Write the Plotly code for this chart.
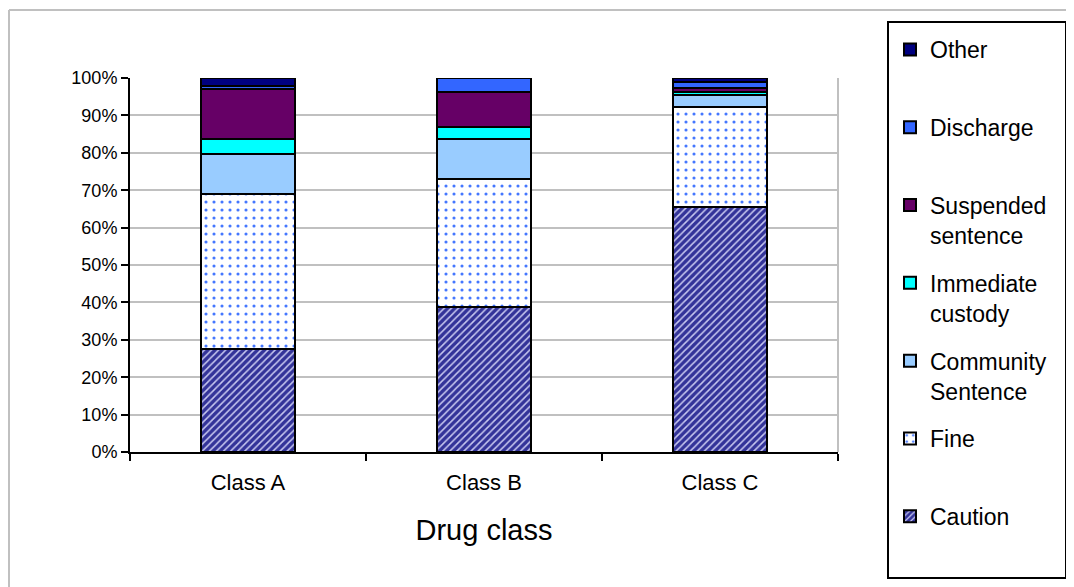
import plotly.graph_objects as go

categories = ["Class A", "Class B", "Class C"]
caution = [27.5, 38.7, 65.5]
fine = [41.5, 34.2, 26.7]
community = [10.6, 10.7, 3.2]
immediate = [4.1, 3.4, 0.8]
suspended = [13.3, 9.3, 1.0]
discharge = [0.8, 3.7, 1.8]
other = [2.2, 0.0, 1.0]

series_names = ["Caution", "Fine", "Community<br>Sentence", "Immediate<br>custody",
                "Suspended<br>sentence", "Discharge", "Other"]
series_values = [caution, fine, community, immediate, suspended, discharge, other]

FONT = "Liberation Sans, Arial, sans-serif"

styles = [
    dict(color="#333399", pattern=dict(shape="/", bgcolor="#333399", fgcolor="#c8c8f0",
                                       size=5, solidity=0.3, fillmode="replace")),
    dict(color="white", pattern=dict(shape=".", bgcolor="white", fgcolor="#4477ff",
                                     size=8, solidity=0.12, fillmode="replace")),
    dict(color="#99CCFF"),
    dict(color="#00FFFF"),
    dict(color="#660066"),
    dict(color="#3366FF"),
    dict(color="#000080"),
]

fig = go.Figure()
for i, (name, vals, st) in enumerate(zip(series_names, series_values, styles)):
    label = name if ("<br>" in name or i == 0) else name + "<br> "
    fig.add_trace(go.Bar(
        x=categories, y=vals, name=label, legendgroup=f"g{i}", legendrank=1000 - i,
        marker=dict(color=st["color"], pattern=st.get("pattern"),
                    line=dict(color="black", width=2)),
    ))

OFF = 8  # page body margin
W, H = 1074 - OFF, 587 - OFF
L, R, T, B = 130 - OFF, 838 - OFF, 78 - OFF, 452 - OFF
pw, ph = R - L, B - T

def px(x):
    return (x - OFF - L) / pw

def py(y):
    return (B - (y - OFF)) / ph

shapes = [
    dict(type="line", xref="paper", yref="paper", x0=px(9), x1=px(1080), y0=py(10), y1=py(10),
         line=dict(color="#c0c0c0", width=2)),
    dict(type="line", xref="paper", yref="paper", x0=px(9), x1=px(9), y0=py(10), y1=py(600),
         line=dict(color="#c0c0c0", width=2)),
    dict(type="line", xref="paper", yref="paper", x0=1, x1=1, y0=0, y1=1,
         line=dict(color="#c0c0c0", width=2), layer="below"),
    dict(type="rect", xref="paper", yref="paper", x0=px(888), x1=px(1066), y0=py(22), y1=py(578),
         line=dict(color="black", width=2)),
]

fig.update_layout(
    width=W, height=H,
    margin=dict(l=L, r=W - R, t=T, b=H - B),
    barmode="stack", bargap=0.6,
    plot_bgcolor="white", paper_bgcolor="white",
    font=dict(family=FONT, size=18, color="black"),
    shapes=shapes,
    legend=dict(
        traceorder="grouped", tracegroupgap=15, valign="top",
        x=px(890), y=py(28), xanchor="left", yanchor="top",
        font=dict(family=FONT, size=23, color="black"),
        bgcolor="rgba(0,0,0,0)", borderwidth=0, maxheight=560,
    ),
    xaxis=dict(
        title=dict(text="Drug class", font=dict(size=29), standoff=25),
        tickson="boundaries", ticks="outside", ticklen=7, tickwidth=2, tickcolor="black",
        showline=True, linecolor="black", linewidth=2, showgrid=False,
        tickfont=dict(size=22), ticklabelstandoff=10,
    ),
    yaxis=dict(
        range=[0, 100], dtick=10, ticksuffix="%",
        ticks="outside", ticklen=7, tickwidth=2, tickcolor="black",
        showline=True, linecolor="black", linewidth=2,
        showgrid=True, gridcolor="#c0c0c0", gridwidth=2, zeroline=False,
        tickfont=dict(size=18),
    ),
)

fig.write_html("out.html")
